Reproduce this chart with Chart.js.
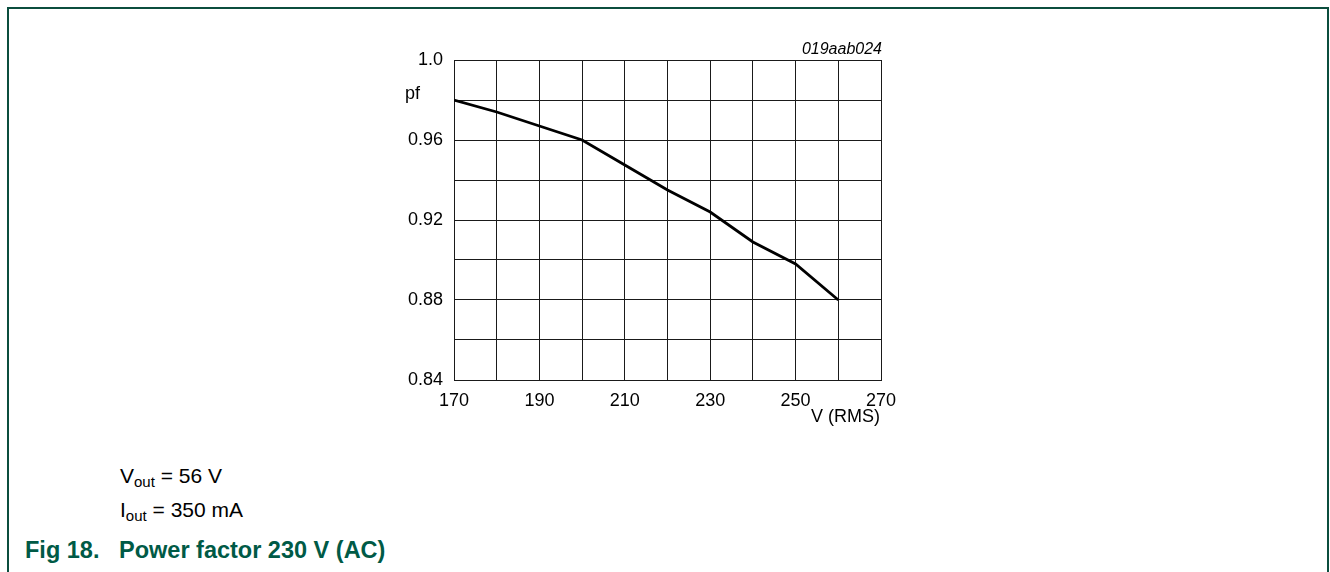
<!DOCTYPE html>
<html>
<head>
<meta charset="utf-8">
<script src="https://cdn.jsdelivr.net/npm/chart.js@4"></script>
<style>
  body { margin: 0; width: 1330px; height: 572px; background: #fff; overflow: hidden; position: relative;
         font-family: "Liberation Sans", Arial, sans-serif; color: #000; }
  .frame { position: absolute; left: 7px; top: 7px; width: 1322px; height: 600px; box-sizing: border-box;
           border: 2px solid #0b4d3e; border-bottom: none; }
  .txt { position: absolute; white-space: nowrap; }
  .note { font-size: 21px; line-height: 21px; left: 120px; }
  .note sub { font-size: 15px; line-height: 0; vertical-align: -4px; }
  .cap { font-size: 23.5px; line-height: 23px; font-weight: bold; color: #005a46; }
  #wrap { position: absolute; left: 360px; top: 30px; width: 560px; height: 400px; }
</style>
</head>
<body>
<div class="frame"></div>
<div id="wrap"><canvas id="myCanvas" width="560" height="400"></canvas></div>
<div class="txt" style="right:448px; top:41px; font-size:16px; line-height:16px; font-style:italic;">019aab024</div>
<div class="txt" style="left:405px; top:84px; font-size:18px; line-height:18px;">pf</div>
<div class="txt" style="right:450px; top:407px; font-size:18px; line-height:18px;">V (RMS)</div>
<div class="txt note" style="top:465px;">V<sub>out</sub> = 56 V</div>
<div class="txt note" style="top:499px;">I<sub>out</sub> = 350 mA</div>
<div class="txt cap" style="left:25px; top:539px;">Fig 18.</div>
<div class="txt cap" style="left:119px; top:539px;">Power factor 230 V (AC)</div>
<script>
const voltage = [170, 180, 190, 200, 210, 220, 230, 240, 250, 260];
const powerFactor = [0.980, 0.974, 0.967, 0.960, 0.9475, 0.935, 0.924, 0.909, 0.898, 0.880];

const xMin = 170, xMax = 270, xStep = 10;
const yMin = 0.84, yMax = 1.0, yStep = 0.02;

const gridColor = "#1a1a1a";
const tickFont = { family: "'Liberation Sans', Arial, sans-serif", size: 18 };

let ctx = document.getElementById("myCanvas").getContext("2d");

new Chart(ctx, {
  type: "line",
  data: {
    datasets: [
      {
        label: "pf",
        data: voltage.map((v, i) => ({ x: v, y: powerFactor[i] })),
        borderColor: "#000",
        borderWidth: 2.8,
        pointRadius: 0,
        tension: 0,
        fill: false,
      },
    ],
  },
  options: {
    responsive: false,
    animation: false,
    events: [],
    layout: { padding: { top: 30, right: 39, left: 0, bottom: 0 } },
    plugins: { legend: { display: false }, tooltip: { enabled: false } },
    scales: {
      x: {
        type: "linear",
        min: xMin,
        max: xMax,
        afterFit: (s) => { s.height = 50; },
        grid: { color: gridColor, lineWidth: 1, drawTicks: false },
        border: { color: gridColor, width: 1 },
        ticks: {
          stepSize: xStep,
          padding: 10,
          maxRotation: 0,
          autoSkip: false,
          color: "#000",
          font: tickFont,
          callback: (v, i) => (i % 2 === 0 ? String(Math.round(v)) : ""),
        },
      },
      y: {
        min: yMin,
        max: yMax,
        afterFit: (s) => { s.width = 94; },
        grid: { color: gridColor, lineWidth: 1, drawTicks: false },
        border: { color: gridColor, width: 1 },
        ticks: {
          stepSize: yStep,
          padding: 11,
          autoSkip: false,
          color: "#000",
          font: tickFont,
          callback: (v, i) => {
            if (i % 2 !== 0) return "";
            return Math.abs(v - 1) < 1e-9 ? "1.0" : v.toFixed(2);
          },
        },
      },
    },
  },
});
</script>
</body>
</html>
